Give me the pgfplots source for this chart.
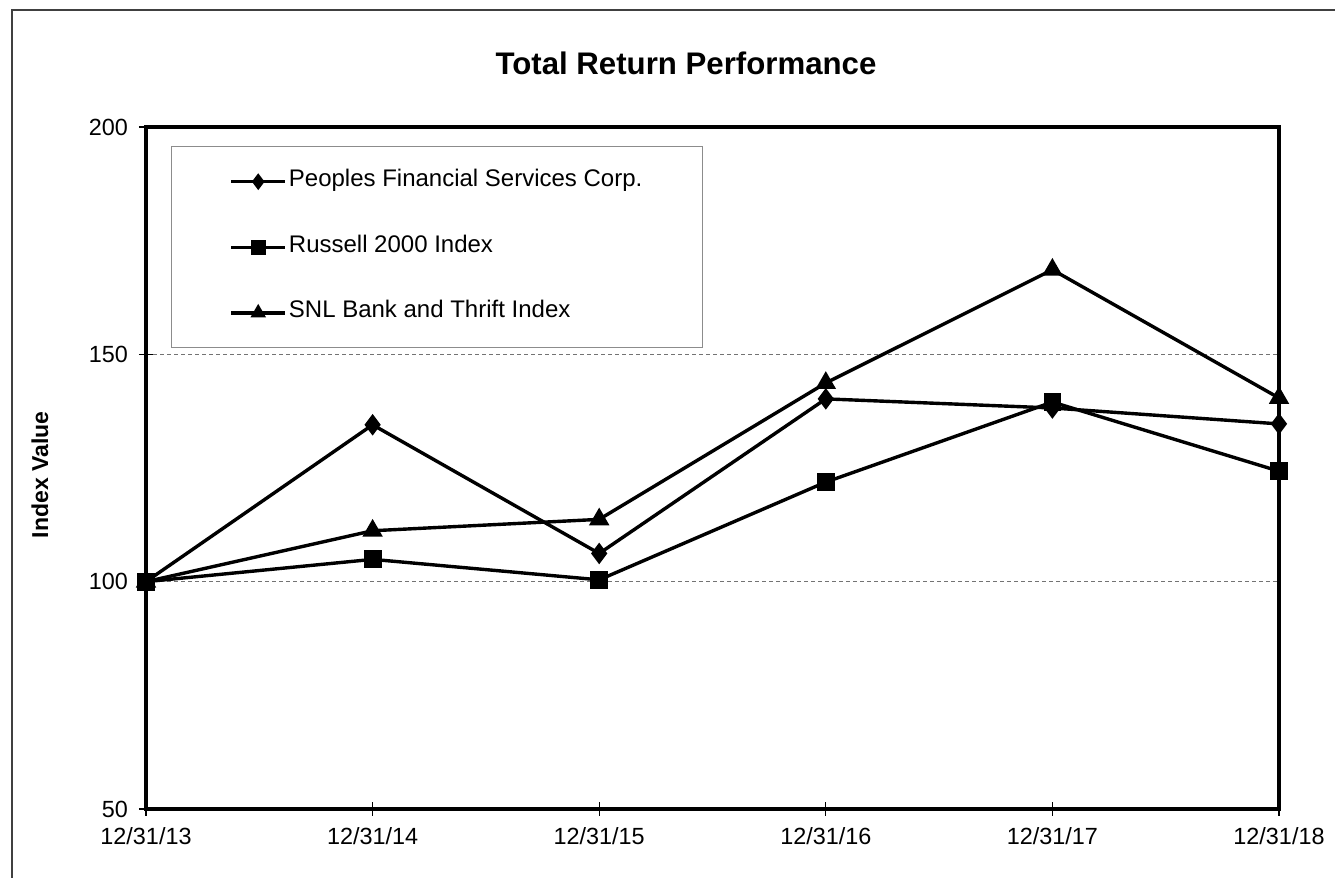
\documentclass[border=0pt]{standalone}
\usepackage{pgfplots}
\pgfplotsset{compat=1.18}
\usepackage{fontspec}
\setmainfont{Liberation Sans}
\begin{document}
\begin{tikzpicture}
\useasboundingbox (0,0) rectangle (667.5pt,439pt);
\draw[line width=0.7pt, black!75] (6pt,0pt) -- (6pt,434pt) -- (667.5pt,434pt);
\begin{axis}[
  at={(73pt,34.5pt)}, anchor=south west,
  scale only axis, width=566.5pt, height=341pt,
  xmin=0, xmax=5, ymin=50, ymax=200,
  xtick={0,1,2,3,4,5},
  xticklabels={12/31/13,12/31/14,12/31/15,12/31/16,12/31/17,12/31/18},
  ytick={50,100,150,200},
  tick pos=left, tick align=center, major tick length=7pt,
  tick style={line width=0.6pt, black},
  ticklabel style={font=\fontsize{11.7}{14}\selectfont},
  /pgf/number format/assume math mode=true,
  xticklabel style={yshift=-2pt},
  yticklabel style={xshift=-2pt},
  axis line style={line width=1.7pt},
  ymajorgrids, grid style={dash pattern=on 2pt off 1.5pt, line width=0.4pt, black!55},
  legend style={at={(rel axis cs:0.022,0.972)}, anchor=north west,
    draw=black!45, line width=0.6pt, inner xsep=29pt, inner ysep=10.5pt,
    row sep=18.8pt,
    font=\fontsize{12}{14}\selectfont,
    nodes={inner xsep=1pt, inner ysep=2pt, text height=0.75em, text depth=0.25em}},
  legend cell align=left,
  legend image code/.code={\draw[mark repeat=2,mark phase=2,#1] plot coordinates {(0pt,0pt) (13.5pt,0pt) (27pt,0pt)};},
  legend image post style={mark size=2.8pt},
]
\addplot[black, line width=1.7pt, mark=diamond*, mark size=4pt, mark options={solid, fill=black}] coordinates {(0,100) (1,134.5) (2,106.2) (3,140.2) (4,138.2) (5,134.7)};
\addlegendentry{Peoples Financial Services Corp.}
\addplot[black, line width=1.7pt, mark=square*, mark size=3.6pt, mark options={solid, fill=black}] coordinates {(0,100) (1,104.9) (2,100.4) (3,121.9) (4,139.5) (5,124.3)};
\addlegendentry{Russell 2000 Index}
\addplot[black, line width=1.7pt, mark=triangle*, mark size=4.2pt, mark options={solid, fill=black}] coordinates {(0,100) (1,111.2) (2,113.7) (3,143.7) (4,168.6) (5,140.4)};
\addlegendentry{SNL Bank and Thrift Index}
\end{axis}
\node[font=\bfseries\fontsize{15.6}{18}\selectfont] at (343pt,407.5pt) {Total Return Performance};
\node[rotate=90, font=\bfseries\fontsize{11.5}{14}\selectfont] at (20pt,201.5pt) {Index Value};
\end{tikzpicture}
\end{document}
